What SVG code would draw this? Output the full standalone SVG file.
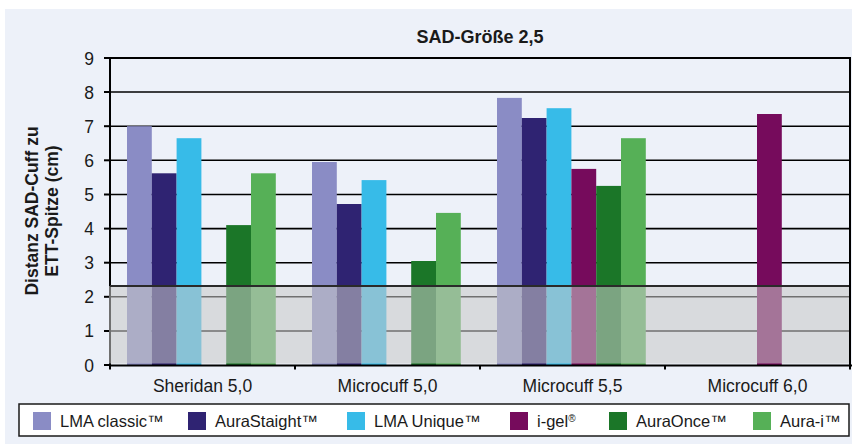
<svg xmlns="http://www.w3.org/2000/svg" width="852" height="444" viewBox="0 0 852 444">
<style>
text{font-family:"Liberation Sans",Arial,sans-serif;fill:#1a1a1a}
.tick{font-size:17.5px;text-anchor:end}
.cat{font-size:17.5px;text-anchor:middle}
.leg{font-size:16.5px}
.grid{stroke:#000;stroke-width:1.6}
.ax{stroke:#000;stroke-width:2;fill:none}
.c1{fill:#8a8cc5}.c2{fill:#2f2372}.c3{fill:#37bbe8}.c4{fill:#760b5c}.c5{fill:#1b7628}.c6{fill:#56b057}
</style>
<rect x="0" y="0" width="852" height="444" fill="#ffffff"/>
<rect x="5" y="9" width="847" height="435" fill="#edf1f9"/>
<text x="480" y="43" text-anchor="middle" font-size="18" font-weight="bold">SAD-Größe 2,5</text>
<g id="yaxis-label" font-size="17.5" font-weight="bold" text-anchor="middle">
<text transform="translate(38,211) rotate(-90)">Distanz SAD-Cuff zu</text>
<text transform="translate(58,211) rotate(-90)">ETT-Spitze (cm)</text>
</g>
<g id="grid">
<line class="grid" x1="110" y1="331" x2="849" y2="331"/>
<line class="grid" x1="110" y1="296.8" x2="849" y2="296.8"/>
<line class="grid" x1="110" y1="262.7" x2="849" y2="262.7"/>
<line class="grid" x1="110" y1="228.6" x2="849" y2="228.6"/>
<line class="grid" x1="110" y1="194.5" x2="849" y2="194.5"/>
<line class="grid" x1="110" y1="160.3" x2="849" y2="160.3"/>
<line class="grid" x1="110" y1="126.2" x2="849" y2="126.2"/>
<line class="grid" x1="110" y1="92" x2="849" y2="92"/>
<line class="ax" x1="110" y1="58" x2="851" y2="58"/>
</g>
<line class="ax" x1="110" y1="57" x2="110" y2="366"/>
<g id="ticks-y">
<line class="ax" x1="104" y1="365" x2="110" y2="365"/>
<line class="ax" x1="104" y1="331" x2="110" y2="331"/>
<line class="ax" x1="104" y1="296.8" x2="110" y2="296.8"/>
<line class="ax" x1="104" y1="262.7" x2="110" y2="262.7"/>
<line class="ax" x1="104" y1="228.6" x2="110" y2="228.6"/>
<line class="ax" x1="104" y1="194.5" x2="110" y2="194.5"/>
<line class="ax" x1="104" y1="160.3" x2="110" y2="160.3"/>
<line class="ax" x1="104" y1="126.2" x2="110" y2="126.2"/>
<line class="ax" x1="104" y1="92" x2="110" y2="92"/>
<line class="ax" x1="104" y1="58" x2="110" y2="58"/>
</g>
<g id="ytick-labels">
<text class="tick" x="94" y="371.5">0</text>
<text class="tick" x="94" y="337.4">1</text>
<text class="tick" x="94" y="303.3">2</text>
<text class="tick" x="94" y="269.2">3</text>
<text class="tick" x="94" y="235.1">4</text>
<text class="tick" x="94" y="201">5</text>
<text class="tick" x="94" y="166.8">6</text>
<text class="tick" x="94" y="132.7">7</text>
<text class="tick" x="94" y="98.6">8</text>
<text class="tick" x="94" y="64.5">9</text>
</g>
<g id="bars">
<g id="sheridan-5-0">
<rect class="c1" x="127" y="126.2" width="24.8" height="238.8"/>
<rect class="c2" x="151.8" y="173.3" width="24.8" height="191.7"/>
<rect class="c3" x="176.6" y="138.2" width="24.8" height="226.8"/>
<rect class="c5" x="226.2" y="225.1" width="24.8" height="139.9"/>
<rect class="c6" x="251" y="173.3" width="24.8" height="191.7"/>
</g>
<g id="microcuff-5-0">
<rect class="c1" x="312" y="162" width="24.8" height="203"/>
<rect class="c2" x="336.8" y="204" width="24.8" height="161"/>
<rect class="c3" x="361.6" y="180.1" width="24.8" height="184.9"/>
<rect class="c5" x="411.2" y="261" width="24.8" height="104"/>
<rect class="c6" x="436" y="212.9" width="24.8" height="152.1"/>
</g>
<g id="microcuff-5-5">
<rect class="c1" x="497" y="97.9" width="24.8" height="267.1"/>
<rect class="c2" x="521.8" y="118" width="24.8" height="247"/>
<rect class="c3" x="546.6" y="108.2" width="24.8" height="256.8"/>
<rect class="c4" x="571.4" y="168.9" width="24.8" height="196.1"/>
<rect class="c5" x="596.2" y="185.9" width="24.8" height="179.1"/>
<rect class="c6" x="621" y="138.2" width="24.8" height="226.8"/>
</g>
<g id="microcuff-6-0">
<rect class="c4" x="757" y="114" width="24.8" height="251"/>
</g>
</g>
<g id="band">
<rect x="109" y="286" width="740" height="77.5" fill="#c8c8c8" fill-opacity="0.56"/>
<line x1="110" y1="286" x2="849" y2="286" stroke="#2a2a2a" stroke-width="1.8"/>
</g>
<line class="ax" x1="850" y1="57" x2="850" y2="366"/>
<line class="ax" x1="109" y1="365.5" x2="852" y2="365.5"/>
<g id="ticks-x">
<line class="ax" x1="110" y1="365" x2="110" y2="369.5"/>
<line class="ax" x1="295" y1="365" x2="295" y2="369.5"/>
<line class="ax" x1="480" y1="365" x2="480" y2="369.5"/>
<line class="ax" x1="665" y1="365" x2="665" y2="369.5"/>
<line class="ax" x1="850" y1="365" x2="850" y2="369.5"/>
</g>
<g id="categories">
<text class="cat" x="202.5" y="392">Sheridan 5,0</text>
<text class="cat" x="387.5" y="392">Microcuff 5,0</text>
<text class="cat" x="572.5" y="392">Microcuff 5,5</text>
<text class="cat" x="757.5" y="392">Microcuff 6,0</text>
</g>
<g id="legend">
<rect x="19" y="404" width="830" height="32" fill="#ffffff" stroke="#1a1a1a" stroke-width="1.5"/>
<rect class="c1" x="33" y="412" width="18" height="18"/>
<text class="leg" x="60" y="427">LMA classic™</text>
<rect class="c2" x="188" y="412" width="18" height="18"/>
<text class="leg" x="215" y="427">AuraStaight™</text>
<rect class="c3" x="347" y="412" width="18" height="18"/>
<text class="leg" x="374" y="427">LMA Unique™</text>
<rect class="c4" x="510" y="412" width="18" height="18"/>
<text class="leg" x="537" y="427">i-gel<tspan font-size="10" dy="-5">®</tspan></text>
<rect class="c5" x="609" y="412" width="18" height="18"/>
<text class="leg" x="636" y="427">AuraOnce™</text>
<rect class="c6" x="753" y="412" width="18" height="18"/>
<text class="leg" x="780" y="427">Aura-i™</text>
</g>
</svg>
